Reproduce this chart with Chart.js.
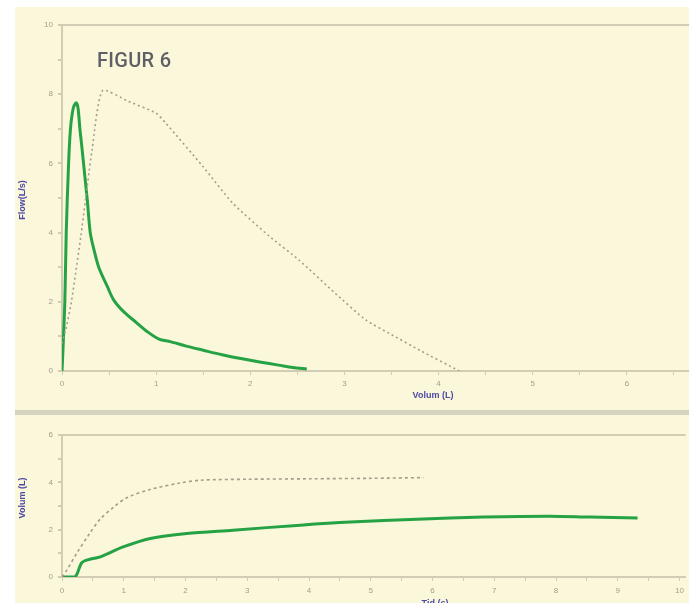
<!DOCTYPE html>
<html>
<head>
    <meta charset="UTF-8">
    <script src="https://cdn.jsdelivr.net/npm/chart.js@4.4.0/dist/chart.umd.min.js"></script>
    <style>
        body { margin: 0; background: #fff; width: 699px; height: 603px; overflow: hidden; }
        #panel { position: absolute; left: 15px; top: 7px; width: 674px; height: 596px; background: #faf7da; }
        #top-graph { position: absolute; left: 15px; top: 7px; }
        #bottom-graph { position: absolute; left: 15px; top: 415px; }
        #sep { position: absolute; left: 15px; top: 410px; width: 674px; height: 5px; background: #d6d2c0; }
        #figur { position: absolute; left: 97px; top: 48px; font-family: Roboto, sans-serif; font-size: 20px; font-weight: 500; color: #5e6066; letter-spacing: 0.3px; }
    </style>
</head>

<body>
<div id="panel"></div>
<canvas id="top-graph" width="674" height="404"></canvas>
<div id="sep"></div>
<canvas id="bottom-graph" width="674" height="188"></canvas>
<div id="figur">FIGUR 6</div>
</body>

<script>

    // Flow-volume: measured (green)
    var measVolume = [0, 0.01, 0.03, 0.045, 0.07, 0.09, 0.12, 0.15, 0.17, 0.19, 0.21, 0.24, 0.27, 0.30, 0.34, 0.39, 0.48, 0.55, 0.66, 0.79, 0.90, 1.03, 1.15, 1.32, 1.50, 1.70, 1.90, 2.10, 2.30, 2.45, 2.60];
    var measFlow   = [0, 0.6, 2.0, 4.0, 6.0, 7.0, 7.6, 7.75, 7.6, 7.0, 6.5, 5.7, 4.9, 4.0, 3.5, 3.0, 2.45, 2.05, 1.7, 1.4, 1.15, 0.92, 0.85, 0.72, 0.6, 0.47, 0.36, 0.26, 0.17, 0.1, 0.06];

    // Flow-volume: predicted (dotted)
    var predVolume = [0, 0.04, 0.1, 0.2, 0.32, 0.43, 0.7, 1.0, 1.1, 1.5, 1.81, 2.2, 2.52, 2.9, 3.23, 3.5, 3.8, 4.22];
    var predFlow   = [0.8, 1.2, 2.0, 3.9, 6.4, 8.1, 7.8, 7.45, 7.17, 5.9, 4.86, 3.9, 3.2, 2.25, 1.47, 1.05, 0.6, 0];

    // Volume-time: measured (green)
    var measTime = [0, 0.21, 0.32, 0.45, 0.62, 0.99, 1.43, 2.02, 2.77, 3.86, 4.67, 5.75, 6.82, 7.9, 8.55, 9.32];
    var measVol  = [0, 0, 0.6, 0.75, 0.85, 1.27, 1.63, 1.84, 1.98, 2.19, 2.32, 2.44, 2.53, 2.57, 2.53, 2.49];

    // Volume-time: predicted (dotted)
    var predTime = [0, 0.08, 0.25, 0.45, 0.62, 0.85, 1.05, 1.43, 1.91, 2.24, 3.0, 4.0, 5.0, 5.85];
    var predVol  = [0, 0.3, 1.05, 1.85, 2.45, 2.98, 3.35, 3.7, 3.97, 4.09, 4.13, 4.15, 4.17, 4.2];

    // tick labels
    var flowTicks = [0, 2, 4, 6, 8, 10];
    var volumeTicks = [0, 1, 2, 3, 4, 5, 6];
    var volTicks = [0, 2, 4, 6];
    var timeTicks = [0, 1, 2, 3, 4, 5, 6, 7, 8, 9, 10];

    var axisColor = '#d3ccb4';
    var tickFont = { family: 'Liberation Sans', size: 8 };
    var tickColor = '#a29d8f';
    var titleColor = '#4c4aa6';
    var green = '#25a244';
    var dotted = '#a59c8c';

    function pts(xs, ys) {
        return xs.map(function (x, i) { return { x: x, y: ys[i] }; });
    }

    function labelIf(list) {
        return function (value) {
            return list.indexOf(Math.round(value * 100) / 100) >= 0 ? String(value) : '';
        };
    }

    // draws axis titles at given spots
    var titlesPlugin = {
        id: 'titles',
        afterDraw: function (chart, args, opts) {
            var c = chart.ctx;
            c.save();
            c.fillStyle = titleColor;
            c.font = 'bold 9px "Liberation Sans"';
            c.textAlign = 'center';
            c.textBaseline = 'middle';
            opts.items.forEach(function (t) {
                c.save();
                c.translate(t.x, t.y);
                if (t.rot) c.rotate(-Math.PI / 2);
                c.fillText(t.text, 0, 0);
                c.restore();
            });
            c.restore();
        }
    };

    function axisX(min, max, step, labels, height, pad) {
        return {
            type: 'linear', min: min, max: max,
            border: { display: true, color: axisColor, width: 2 },
            grid: { drawOnChartArea: false, color: axisColor, tickColor: axisColor, tickLength: 4 },
            ticks: { stepSize: step, includeBounds: false, autoSkip: false, maxRotation: 0,
                     padding: pad, font: tickFont, color: tickColor, callback: labelIf(labels) },
            afterFit: function (s) { s.height = height; }
        };
    }

    function axisY(min, max, labels) {
        return {
            type: 'linear', min: min, max: max,
            border: { display: true, color: axisColor, width: 2 },
            grid: {
                drawOnChartArea: true, tickLength: 4, tickColor: axisColor, lineWidth: 2,
                color: function (ctx) { return ctx.tick && ctx.tick.value === max ? axisColor : 'rgba(0,0,0,0)'; }
            },
            ticks: { stepSize: 1, autoSkip: false, padding: 5, font: tickFont, color: tickColor, callback: labelIf(labels) },
            afterFit: function (s) { s.width = 47; }
        };
    }

    var ctx = document.getElementById('top-graph').getContext('2d');
    var FlowChart = new Chart(ctx, {
        type: 'line',
        data: {
            datasets: [
                { data: pts(predVolume, predFlow), borderColor: dotted, borderWidth: 1.6, borderDash: [2, 3], pointRadius: 0, tension: 0.2 },
                { data: pts(measVolume, measFlow), borderColor: green, borderWidth: 3, pointRadius: 0, tension: 0.3 }
            ]
        },
        options: {
            responsive: false,
            animation: false,
            layout: { padding: { top: 18, left: 0, right: 0, bottom: 0 } },
            plugins: {
                legend: { display: false },
                tooltip: { enabled: false },
                titles: { items: [
                    { text: 'Flow(L/s)', x: 8, y: 193, rot: true },
                    { text: 'Volum (L)', x: 418, y: 389 }
                ] }
            },
            scales: {
                x: axisX(0, 6.66, 0.5, volumeTicks, 40, 4),
                y: axisY(0, 10, flowTicks)
            }
        },
        plugins: [titlesPlugin]
    });

    var ctx = document.getElementById('bottom-graph').getContext('2d');
    var VolumeChart = new Chart(ctx, {
        type: 'line',
        data: {
            datasets: [
                { data: pts(predTime, predVol), borderColor: dotted, borderWidth: 1.6, borderDash: [3, 3], pointRadius: 0, tension: 0.3 },
                { data: pts(measTime, measVol), borderColor: green, borderWidth: 3, pointRadius: 0, tension: 0.3 }
            ]
        },
        options: {
            responsive: false,
            animation: false,
            layout: { padding: { top: 20, left: 0, right: 0, bottom: 0 } },
            plugins: {
                legend: { display: false },
                tooltip: { enabled: false },
                titles: { items: [
                    { text: 'Volum (L)', x: 8, y: 83, rot: true },
                    { text: 'Tid (s)', x: 420, y: 189 }
                ] }
            },
            scales: {
                x: axisX(0, 10.1, 0.5, timeTicks, 26, 5),
                y: axisY(0, 6, volTicks)
            }
        },
        plugins: [titlesPlugin]
    });

</script>
</html>
